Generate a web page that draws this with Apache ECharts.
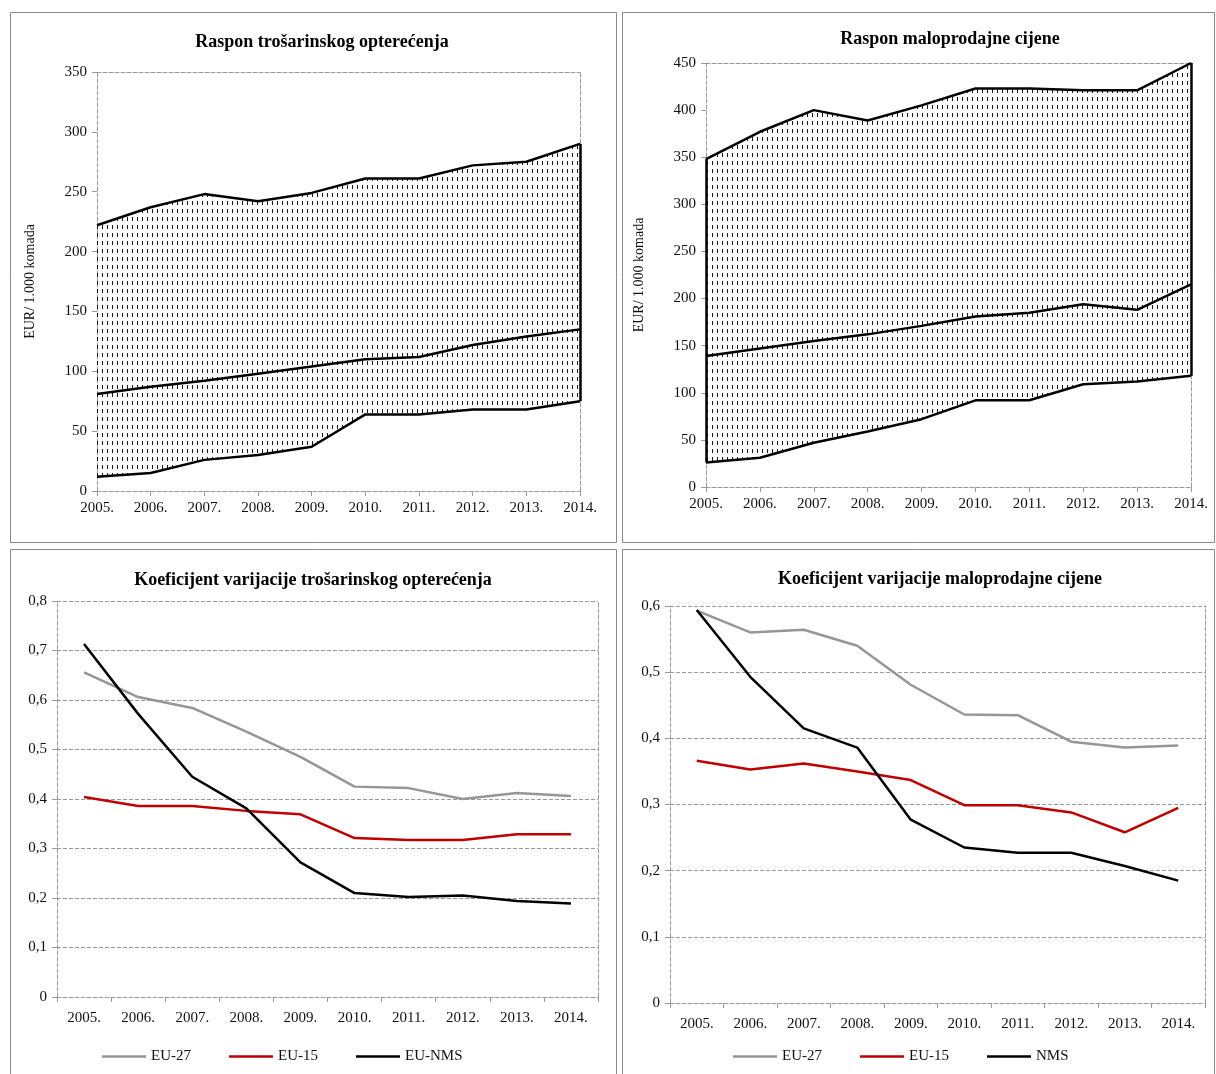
<!DOCTYPE html>
<html><head><meta charset="utf-8">
<script src="https://cdn.jsdelivr.net/npm/echarts@6/dist/echarts.min.js"></script>
<style>html,body{margin:0;padding:0;background:#fff}#c{width:1216px;height:1074px}</style>
</head><body><div id="c"></div><script>
// ---- data ----
const years = ['2005.','2006.','2007.','2008.','2009.','2010.','2011.','2012.','2013.','2014.'];
// Raspon trošarinskog opterećenja (EUR / 1.000 komada)
const exciseMax = [222,237,248,242,249,261,261,272,275,290];
const exciseAvg = [81,87,92,98,104,110,112,122,129,135];
const exciseMin = [12,15,26,30,37,64,64,68,68,75];
// Raspon maloprodajne cijene
const priceMax = [348,377,400,389,405,423,423,421,421,450];
const priceAvg = [139,147,155,162,171,181,185,194,188,215];
const priceMin = [26,31,47,59,72,92,92,109,112,118];
// Koeficijent varijacije trošarinskog opterećenja
const cvExEU27 = [0.656,0.606,0.584,0.536,0.485,0.425,0.422,0.400,0.412,0.406];
const cvExEU15 = [0.404,0.386,0.386,0.376,0.369,0.321,0.317,0.317,0.329,0.329];
const cvExNMS  = [0.713,0.572,0.445,0.381,0.272,0.210,0.202,0.205,0.194,0.189];
// Koeficijent varijacije maloprodajne cijene
const cvPrEU27 = [0.593,0.560,0.564,0.540,0.481,0.436,0.435,0.395,0.386,0.389];
const cvPrEU15 = [0.366,0.353,0.362,0.350,0.337,0.299,0.299,0.288,0.258,0.295];
const cvPrNMS  = [0.594,0.493,0.415,0.386,0.277,0.235,0.227,0.227,0.207,0.185];
const legendBL = ['EU-27','EU-15','EU-NMS'];
const legendBR = ['EU-27','EU-15','NMS'];

// ---- style helpers ----
const FONT = '"Liberation Serif", "DejaVu Serif", serif';
const GRAY = '#9a9a9a';
const pat = document.createElement('canvas');
pat.width = 5; pat.height = 8;
const pc = pat.getContext('2d');
pc.fillStyle = '#1a1a1a';
pc.fillRect(2, 1, 1, 4);
const hatch = { image: pat, repeat: 'repeat' };

const diff = (a, b) => a.map((v, i) => v - b[i]);
const commaFmt = v => v === 0 ? '0' : v.toFixed(1).replace('.', ',');

function xCat(gi, gap) {
  return [
    { type: 'category', gridIndex: gi, data: years, boundaryGap: gap,
      axisLine: { show: true, onZero: false, lineStyle: { color: GRAY, type: 'dashed', width: 1 } },
      axisTick: { show: true, length: 5, inside: false, alignWithLabel: !gap, lineStyle: { color: GRAY } },
      axisLabel: { interval: 0, fontFamily: FONT, fontSize: 15, color: '#111', margin: gap ? 14 : 10 },
      splitLine: { show: false } },
    { type: 'category', gridIndex: gi, data: years, boundaryGap: gap, position: 'top',
      axisLine: { show: !gap, onZero: false, lineStyle: { color: GRAY, type: 'dashed', width: 1 } },
      axisTick: { show: false }, axisLabel: { show: false }, splitLine: { show: false } }
  ];
}
function yVal(gi, max, interval, fmt, grid, name) {
  return [
    { type: 'value', gridIndex: gi, min: 0, max: max, interval: interval,
      name: name || '', nameLocation: 'middle', nameGap: 60, nameRotate: 90,
      nameTextStyle: { fontFamily: FONT, fontSize: 14, color: '#111' },
      axisLine: { show: true, onZero: false, lineStyle: { color: GRAY, type: 'dashed', width: 1 } },
      axisTick: { show: true, length: 5, lineStyle: { color: GRAY } },
      axisLabel: { fontFamily: FONT, fontSize: 15, color: '#111', margin: 10, formatter: fmt },
      splitLine: { show: grid, lineStyle: { color: GRAY, type: 'dashed', width: 1 } } },
    { type: 'value', gridIndex: gi, min: 0, max: max, interval: interval, position: 'right',
      axisLine: { show: true, onZero: false, lineStyle: { color: GRAY, type: 'dashed', width: 1 } },
      axisTick: { show: false }, axisLabel: { show: false }, splitLine: { show: false } }
  ];
}

const lineBase = { type: 'line', symbol: 'none', silent: true, animation: false };
function rangeSeries(xi, yi, lo, mid, hi, stackName, edges) {
  const edgeData = edges.map(i => [{ coord: [years[i], lo[i]] }, { coord: [years[i], hi[i]] }]);
  return [
    Object.assign({}, lineBase, { xAxisIndex: xi, yAxisIndex: yi, stack: stackName, data: lo,
      lineStyle: { color: '#000', width: 2.5 } }),
    Object.assign({}, lineBase, { xAxisIndex: xi, yAxisIndex: yi, stack: stackName, data: diff(hi, lo),
      lineStyle: { color: '#000', width: 2.5 }, areaStyle: { color: hatch, opacity: 1 } }),
    Object.assign({}, lineBase, { xAxisIndex: xi, yAxisIndex: yi, data: mid,
      lineStyle: { color: '#000', width: 2.5 },
      markLine: { silent: true, symbol: 'none', label: { show: false }, animation: false,
        lineStyle: { color: '#000', width: 2.5, type: 'solid' }, data: edgeData } })
  ];
}
function cvSeries(xi, yi, names, a, b, c) {
  return [
    Object.assign({}, lineBase, { name: names[0], xAxisIndex: xi, yAxisIndex: yi, data: a, color: '#969696', lineStyle: { color: '#969696', width: 2.5 } }),
    Object.assign({}, lineBase, { name: names[1], xAxisIndex: xi, yAxisIndex: yi, data: b, color: '#c00000', lineStyle: { color: '#c00000', width: 2.5 } }),
    Object.assign({}, lineBase, { name: names[2], xAxisIndex: xi, yAxisIndex: yi, data: c, color: '#000', lineStyle: { color: '#000', width: 2.5 } })
  ];
}

const titleStyle = { fontFamily: FONT, fontSize: 18, fontWeight: 'bold', fill: '#000', textAlign: 'center', textVerticalAlign: 'middle' };
function title(x, y, t) { return { type: 'text', x: x, y: y, style: Object.assign({ text: t }, titleStyle), silent: true }; }
function panel(x, y, w, h) { return { type: 'rect', shape: { x: x + 0.5, y: y + 0.5, width: w, height: h }, style: { fill: null, stroke: '#8a8a8a', lineWidth: 1 }, silent: true, z: -10 }; }

const legendCommon = { orient: 'horizontal', icon: 'rect', itemWidth: 44, itemHeight: 2.5, itemGap: 38,
  textStyle: { fontFamily: FONT, fontSize: 15, color: '#111' }, selectedMode: false };

const option = {
  backgroundColor: '#fff',
  animation: false,
  graphic: [
    panel(10, 12, 606, 530), panel(622, 12, 592, 530),
    panel(10, 549, 606, 530), panel(622, 549, 592, 530),
    title(322, 42, 'Raspon trošarinskog opterećenja'),
    title(950, 39, 'Raspon maloprodajne cijene'),
    title(313, 580, 'Koeficijent varijacije trošarinskog opterećenja'),
    title(940, 579, 'Koeficijent varijacije maloprodajne cijene')
  ],
  grid: [
    { left: 97, top: 72, width: 483, height: 419 },
    { left: 706, top: 63, width: 485, height: 424 },
    { left: 57, top: 601, width: 541, height: 396 },
    { left: 670, top: 606, width: 535, height: 397 }
  ],
  xAxis: [].concat(xCat(0, false), xCat(1, false), xCat(2, true), xCat(3, true)),
  yAxis: [].concat(
    yVal(0, 350, 50, null, false, 'EUR/ 1.000 komada'),
    yVal(1, 450, 50, null, false, 'EUR/ 1.000 komada'),
    yVal(2, 0.8, 0.1, commaFmt, true),
    yVal(3, 0.6, 0.1, commaFmt, true)
  ),
  legend: [
    Object.assign({}, legendCommon, { data: legendBL, left: 97, top: 1044 }),
    Object.assign({}, legendCommon, { data: legendBR, left: 728, top: 1044 })
  ],
  series: [].concat(
    rangeSeries(0, 0, exciseMin, exciseAvg, exciseMax, 'ex', [9]),
    rangeSeries(2, 2, priceMin, priceAvg, priceMax, 'pr', [0, 9]),
    cvSeries(4, 4, legendBL, cvExEU27, cvExEU15, cvExNMS),
    cvSeries(6, 6, legendBR, cvPrEU27, cvPrEU15, cvPrNMS)
  )
};
const chart = echarts.init(document.getElementById('c'), null, { renderer: 'canvas' });
chart.setOption(option);
</script></body></html>
